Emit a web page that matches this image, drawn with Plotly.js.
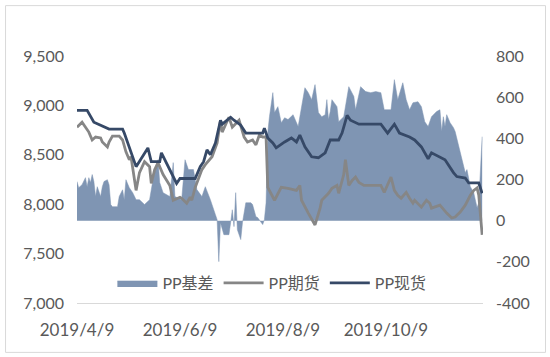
<!DOCTYPE html>
<html>
<head>
<meta charset="utf-8">
<script src="https://cdn.plot.ly/plotly-3.0.1.min.js"></script>
<style>html,body{margin:0;padding:0;background:#fff;}#chart{width:550px;height:357px;}</style>
</head>
<body>
<div id="chart"></div>
<script>
// PP基差 (right axis)
const basisDates = ['2019-04-09','2019-04-10','2019-04-12','2019-04-14','2019-04-15','2019-04-16','2019-04-17','2019-04-18','2019-04-19','2019-04-20','2019-04-21','2019-04-23','2019-04-24','2019-04-25','2019-04-27','2019-04-28','2019-04-29','2019-04-30','2019-05-03','2019-05-04','2019-05-06','2019-05-07','2019-05-08','2019-05-10','2019-05-12','2019-05-14','2019-05-16','2019-05-19','2019-05-22','2019-05-24','2019-05-27','2019-05-28','2019-05-30','2019-06-03','2019-06-05','2019-06-06','2019-06-10','2019-06-12','2019-06-14','2019-06-17','2019-06-19','2019-06-22','2019-06-24','2019-06-26','2019-06-27','2019-06-30','2019-07-01','2019-07-02','2019-07-03','2019-07-05','2019-07-08','2019-07-09','2019-07-10','2019-07-11','2019-07-12','2019-07-13','2019-07-15','2019-07-16','2019-07-18','2019-07-21','2019-07-22','2019-07-24','2019-07-25','2019-07-28','2019-07-29','2019-07-30','2019-07-31','2019-08-01','2019-08-03','2019-08-04','2019-08-06','2019-08-08','2019-08-10','2019-08-12','2019-08-15','2019-08-18','2019-08-22','2019-08-24','2019-08-26','2019-08-28','2019-08-30','2019-09-01','2019-09-03','2019-09-04','2019-09-05','2019-09-06','2019-09-07','2019-09-10','2019-09-11','2019-09-14','2019-09-17','2019-09-20','2019-09-21','2019-09-24','2019-09-27','2019-09-30','2019-10-03','2019-10-06','2019-10-08','2019-10-12','2019-10-14','2019-10-16','2019-10-19','2019-10-21','2019-10-23','2019-10-25','2019-10-28','2019-10-30','2019-11-01','2019-11-03','2019-11-05','2019-11-08','2019-11-10','2019-11-11','2019-11-12','2019-11-13','2019-11-14','2019-11-16','2019-11-18','2019-11-19','2019-11-22','2019-11-24','2019-11-25','2019-11-26','2019-11-27','2019-11-28','2019-11-30','2019-12-02','2019-12-03','2019-12-05'];
const basis = [190,160,175,209,165,209,185,224,190,117,165,117,165,190,199,175,78,68,68,117,150,102,199,160,136,102,102,78,102,199,296,185,136,117,282,117,102,296,248,248,151,117,165,126,102,29,5,-199,-10,-68,-68,-10,53,-29,136,-44,-92,-10,87,87,78,19,15,-19,5,87,428,505,622,525,554,476,500,491,515,457,646,622,588,661,525,505,515,588,491,530,588,554,481,505,651,603,539,651,627,622,627,622,539,539,685,588,670,588,539,573,578,554,481,457,505,530,539,433,505,457,515,476,452,433,330,262,233,248,199,165,136,63,87,408];

// PP期货 (left axis)
const futDates = ['2019-04-09','2019-04-12','2019-04-16','2019-04-18','2019-04-20','2019-04-23','2019-04-24','2019-04-27','2019-04-28','2019-04-30','2019-05-04','2019-05-06','2019-05-08','2019-05-10','2019-05-11','2019-05-14','2019-05-16','2019-05-19','2019-05-22','2019-05-23','2019-05-25','2019-05-27','2019-05-30','2019-06-03','2019-06-05','2019-06-09','2019-06-10','2019-06-13','2019-06-15','2019-06-16','2019-06-18','2019-06-22','2019-06-24','2019-06-28','2019-07-01','2019-07-03','2019-07-04','2019-07-08','2019-07-10','2019-07-14','2019-07-17','2019-07-19','2019-07-22','2019-07-24','2019-07-26','2019-07-28','2019-07-30','2019-07-31','2019-08-04','2019-08-08','2019-08-12','2019-08-17','2019-08-19','2019-08-20','2019-08-24','2019-08-28','2019-08-31','2019-09-01','2019-09-05','2019-09-07','2019-09-10','2019-09-11','2019-09-14','2019-09-15','2019-09-17','2019-09-19','2019-09-21','2019-09-23','2019-09-26','2019-10-06','2019-10-08','2019-10-12','2019-10-14','2019-10-16','2019-10-18','2019-10-21','2019-10-23','2019-10-25','2019-10-26','2019-10-30','2019-11-02','2019-11-04','2019-11-05','2019-11-10','2019-11-14','2019-11-17','2019-11-19','2019-11-22','2019-11-25','2019-11-28','2019-11-30','2019-12-02','2019-12-03','2019-12-05'];
const futures = [8780,8830,8730,8650,8680,8670,8630,8580,8630,8690,8690,8650,8530,8450,8480,8140,8320,8430,8380,8210,8350,8420,8300,8190,8040,8070,8060,8010,8070,8040,8170,8350,8400,8480,8620,8850,8730,8880,8780,8850,8680,8630,8650,8600,8700,8680,8680,8170,8040,8170,8160,8140,8190,8040,7910,7790,7960,8040,8110,8160,8190,8110,8300,8450,8190,8240,8275,8220,8190,8190,8120,8275,8140,8090,8060,8120,8060,8010,8040,7970,8040,8010,7960,7990,7910,7860,7870,7920,7990,8090,8140,8165,8090,7690];

// PP现货 (left axis)
const spotDates = ['2019-04-09','2019-04-15','2019-04-19','2019-04-23','2019-04-28','2019-05-06','2019-05-07','2019-05-14','2019-05-21','2019-05-23','2019-05-28','2019-05-29','2019-06-03','2019-06-07','2019-06-09','2019-06-18','2019-06-21','2019-06-23','2019-06-25','2019-06-27','2019-06-30','2019-07-03','2019-07-04','2019-07-09','2019-07-11','2019-07-15','2019-07-18','2019-07-28','2019-07-29','2019-07-31','2019-08-03','2019-08-05','2019-08-10','2019-08-14','2019-08-17','2019-08-19','2019-08-22','2019-08-26','2019-08-30','2019-09-03','2019-09-06','2019-09-11','2019-09-13','2019-09-16','2019-09-18','2019-09-23','2019-10-06','2019-10-10','2019-10-14','2019-10-17','2019-10-23','2019-10-26','2019-10-30','2019-11-03','2019-11-05','2019-11-10','2019-11-13','2019-11-18','2019-11-20','2019-11-25','2019-11-27','2019-12-03','2019-12-05'];
const spot = [8950,8950,8830,8800,8760,8760,8720,8380,8570,8430,8430,8520,8340,8210,8260,8260,8380,8430,8550,8500,8620,8850,8810,8880,8850,8800,8720,8720,8770,8670,8620,8570,8630,8670,8630,8700,8580,8480,8470,8520,8650,8650,8720,8900,8850,8810,8810,8720,8810,8720,8680,8650,8580,8460,8520,8480,8450,8320,8280,8265,8215,8215,8110];

const seriesNames = ['PP基差','PP期货','PP现货'];
const xTickVals = ['2019-04-09','2019-06-09','2019-08-09','2019-10-09'];
const xTickText = ['2019/4/9','2019/6/9','2019/8/9','2019/10/9'];
const leftTickVals = [7000,7500,8000,8500,9000,9500];
const leftTickText = ['7,000','7,500','8,000','8,500','9,000','9,500'];
const rightTickVals = [-400,-200,0,200,400,600,800];
const rightTickText = ['-400','-200','0','200','400','600','800'];

const FONT = 'Lato, "Noto Sans CJK SC", sans-serif';
const traces = [
  {x: basisDates, y: basis, name: seriesNames[0], type: 'scatter', mode: 'lines',
   fill: 'tozeroy', fillcolor: '#7f95b3', line: {color: '#7f95b3', width: 0.5}, yaxis: 'y'},
  {x: futDates, y: futures, name: seriesNames[1], type: 'scatter', mode: 'lines',
   line: {color: '#868686', width: 2.8}, yaxis: 'y2'},
  {x: spotDates, y: spot, name: seriesNames[2], type: 'scatter', mode: 'lines',
   line: {color: '#364967', width: 2.8}, yaxis: 'y2'}
];
const layout = {
  width: 550, height: 357,
  margin: {l: 77, r: 67, t: 56, b: 54},
  paper_bgcolor: '#fff', plot_bgcolor: 'rgba(0,0,0,0)',
  font: {family: FONT, color: '#595959', size: 16},
  showlegend: true,
  legend: {orientation: 'h', x: 0.48, xanchor: 'center', y: 0.081, yanchor: 'middle',
           bgcolor: 'rgba(0,0,0,0)', font: {size: 16, color: '#595959'}, itemwidth: 40},
  xaxis: {type: 'date', range: ['2019-04-09', '2019-12-05 12:00'], tickvals: xTickVals, ticktext: xTickText,
          showgrid: false, zeroline: false, showline: true, linecolor: '#d9d9d9', linewidth: 1,
          ticks: '', tickfont: {size: 17, color: '#595959'}, ticklabelstandoff: 12},
  yaxis: {side: 'right', range: [-400, 800], tickvals: rightTickVals, ticktext: rightTickText,
          showgrid: false, zeroline: false, showline: false, ticks: '', ticklabelstandoff: 12,
          tickfont: {size: 16, color: '#595959'}},
  yaxis2: {side: 'left', overlaying: 'y', range: [7000, 9500], tickvals: leftTickVals, ticktext: leftTickText,
           showgrid: false, zeroline: false, showline: false, ticks: '', ticklabelstandoff: 12,
           tickfont: {size: 16, color: '#595959'}},
  shapes: [{type: 'rect', xref: 'paper', yref: 'paper', x0: -0.176, x1: 1.154, y0: -0.2, y1: 1.204,
            line: {color: '#d9d9d9', width: 1}, fillcolor: 'rgba(0,0,0,0)', layer: 'below'}]
};
Plotly.newPlot('chart', traces, layout, {staticPlot: true, displayModeBar: false});
</script>
</body>
</html>
